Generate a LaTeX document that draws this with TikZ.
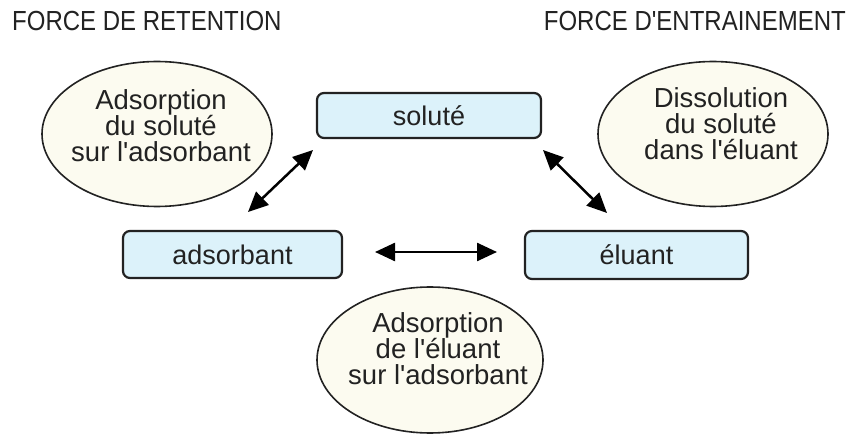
\documentclass[tikz,border=0pt]{standalone}
\usepackage{fontspec}
\setmainfont{Liberation Sans}
\usetikzlibrary{shapes.geometric,arrows.meta}
\definecolor{boxfill}{HTML}{DCF2FA}
\definecolor{ellfill}{HTML}{FCFBF0}
\definecolor{ink}{HTML}{222222}
\begin{document}
\begin{tikzpicture}[x=1pt,y=-1pt,
  box/.style={draw=ink, line width=2.2pt, fill=boxfill, rounded corners=7pt, inner sep=0pt,
    font=\fontsize{27}{30}\selectfont, text=ink},
  bubble/.style={ellipse, draw=ink, line width=1.6pt, fill=ellfill, inner sep=0pt},
  btext/.style={align=center, font=\fontsize{27.5}{26}\selectfont, text=ink, inner sep=0pt},
  title/.style={font=\fontsize{24}{28}\selectfont, text=ink, inner sep=0pt},
  dbl/.style={{Triangle[length=20pt,width=18pt]}-{Triangle[length=20pt,width=18pt]}, line width=2.5pt, black}]
\useasboundingbox (0,0) rectangle (850,435);
\fill[white] (0,0) rectangle (850,435);

% titles
\node[title, anchor=west] (t1) at (12,21) {\scalebox{1}[1.15]{FORCE DE RETENTION}};
\node[title, anchor=east] (t2) at (846,21) {\scalebox{1}[1.15]{FORCE D\textquotesingle ENTRAINEMENT}};

% ellipses
\node[bubble, minimum width=230pt, minimum height=145pt] (e1) at (157,134) {};
\node[btext] (e1t) at (161,126) {Adsorption\\du soluté\\sur l\textquotesingle adsorbant};
\node[bubble, minimum width=230pt, minimum height=145pt] (e2) at (713,134) {};
\node[btext] (e2t) at (721,124) {Dissolution\\du soluté\\dans l\textquotesingle éluant};
\node[bubble, minimum width=226pt, minimum height=146pt] (e3) at (430,360) {};
\node[btext] (e3t) at (438,349) {Adsorption\\de l\textquotesingle éluant\\sur l\textquotesingle adsorbant};

% boxes
\node[box, minimum width=224pt, minimum height=45pt] (sol) at (429,115.5) {soluté};
\node[box, minimum width=219pt, minimum height=47pt] (ads) at (232.5,254.5) {adsorbant};
\node[box, minimum width=223pt, minimum height=48pt] (elu) at (636.5,255) {éluant};

% arrow ends
\coordinate (a1s) at (248,212);
\coordinate (a1e) at (313,150);
\coordinate (a2s) at (543,150);
\coordinate (a2e) at (607,213);
\coordinate (a3s) at (375,252);
\coordinate (a3e) at (497,252);
\draw[dbl] (a1s) -- (a1e);
\draw[dbl] (a2s) -- (a2e);
\draw[dbl] (a3s) -- (a3e);
\end{tikzpicture}
\end{document}
